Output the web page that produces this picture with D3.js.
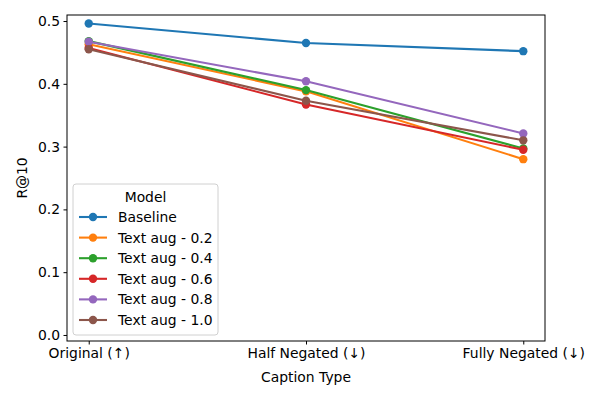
<!DOCTYPE html>
<html><head><meta charset="utf-8">
<script src="https://cdn.jsdelivr.net/npm/d3@7"></script>
<style>body{margin:0;background:#fff}svg{font-family:"DejaVu Sans",sans-serif}</style>
</head><body><svg id="c" width="600" height="400"></svg>
<script>
const categories = ["Original (\u2191)", "Half Negated (\u2193)", "Fully Negated (\u2193)"];
const seriesNames = ["Baseline", "Text aug - 0.2", "Text aug - 0.4", "Text aug - 0.6", "Text aug - 0.8", "Text aug - 1.0"];
const baseline = [0.496, 0.465, 0.452];
const aug02 = [0.463, 0.388, 0.280];
const aug04 = [0.468, 0.390, 0.297];
const aug06 = [0.457, 0.367, 0.295];
const aug08 = [0.467, 0.404, 0.321];
const aug10 = [0.455, 0.373, 0.310];
const yTicks = [0.0, 0.1, 0.2, 0.3, 0.4, 0.5];
const colors = ["#1f77b4", "#ff7f0e", "#2ca02c", "#d62728", "#9467bd", "#8c564b"];
const allSeries = [baseline, aug02, aug04, aug06, aug08, aug10];
const FS = 13.9;

const svg = d3.select("#c");
const L = 67, R = 545, T = 15, B = 341;
const x = d3.scaleLinear().domain([-0.1, 2.1]).range([L, R]);
const y = d3.scaleLinear().domain([-0.0096, 0.5096]).range([B, T]);

const xa = svg.append("g").attr("transform", `translate(0,${B})`)
  .call(d3.axisBottom(x).tickValues([0,1,2]).tickFormat(i => categories[i]).tickSize(3.5).tickPadding(3.5));
const ya = svg.append("g").attr("transform", `translate(${L},0)`)
  .call(d3.axisLeft(y).tickValues(yTicks).tickFormat(d3.format(".1f")).tickSize(3.5).tickPadding(3.5));
[xa, ya].forEach(a => {
  a.select(".domain").remove();
  a.selectAll("text").attr("font-size", FS).attr("fill", "#000").attr("font-family", "DejaVu Sans");
  a.selectAll("line").attr("stroke", "#000").attr("stroke-width", 1);
});

const line = d3.line().x((d, i) => x(i)).y(d => y(d));
allSeries.forEach((s, k) => {
  const g = svg.append("g");
  g.append("path").datum(s).attr("d", line).attr("fill", "none")
    .attr("stroke", colors[k]).attr("stroke-width", 2.1);
  g.selectAll("circle").data(s).join("circle")
    .attr("cx", (d, i) => x(i)).attr("cy", d => y(d)).attr("r", 4.2).attr("fill", colors[k]);
});

svg.append("rect").attr("x", L).attr("y", T).attr("width", R - L).attr("height", B - T)
  .attr("fill", "none").attr("stroke", "#000").attr("stroke-width", 1);

svg.append("text").attr("x", (L + R) / 2).attr("y", 382).attr("text-anchor", "middle")
  .attr("font-size", FS).text("Caption Type");
svg.append("text").attr("transform", `translate(27,${(T + B) / 2}) rotate(-90)`)
  .attr("text-anchor", "middle").attr("font-size", FS).text("R@10");

const lg = svg.append("g");
lg.append("rect").attr("x", 73).attr("y", 184).attr("width", 145).attr("height", 151).attr("rx", 3)
  .attr("fill", "#fff").attr("fill-opacity", 0.8).attr("stroke", "#d0d0d0");
lg.append("text").attr("x", 145.5).attr("y", 202).attr("text-anchor", "middle").attr("font-size", FS).text("Model");
seriesNames.forEach((n, k) => {
  const yy = 217 + k * 20.6;
  lg.append("line").attr("x1", 79).attr("x2", 107).attr("y1", yy).attr("y2", yy)
    .attr("stroke", colors[k]).attr("stroke-width", 2.1);
  lg.append("circle").attr("cx", 93).attr("cy", yy).attr("r", 4.2).attr("fill", colors[k]);
  lg.append("text").attr("x", 118).attr("y", yy + 5).attr("font-size", FS).text(n);
});
</script></body></html>
